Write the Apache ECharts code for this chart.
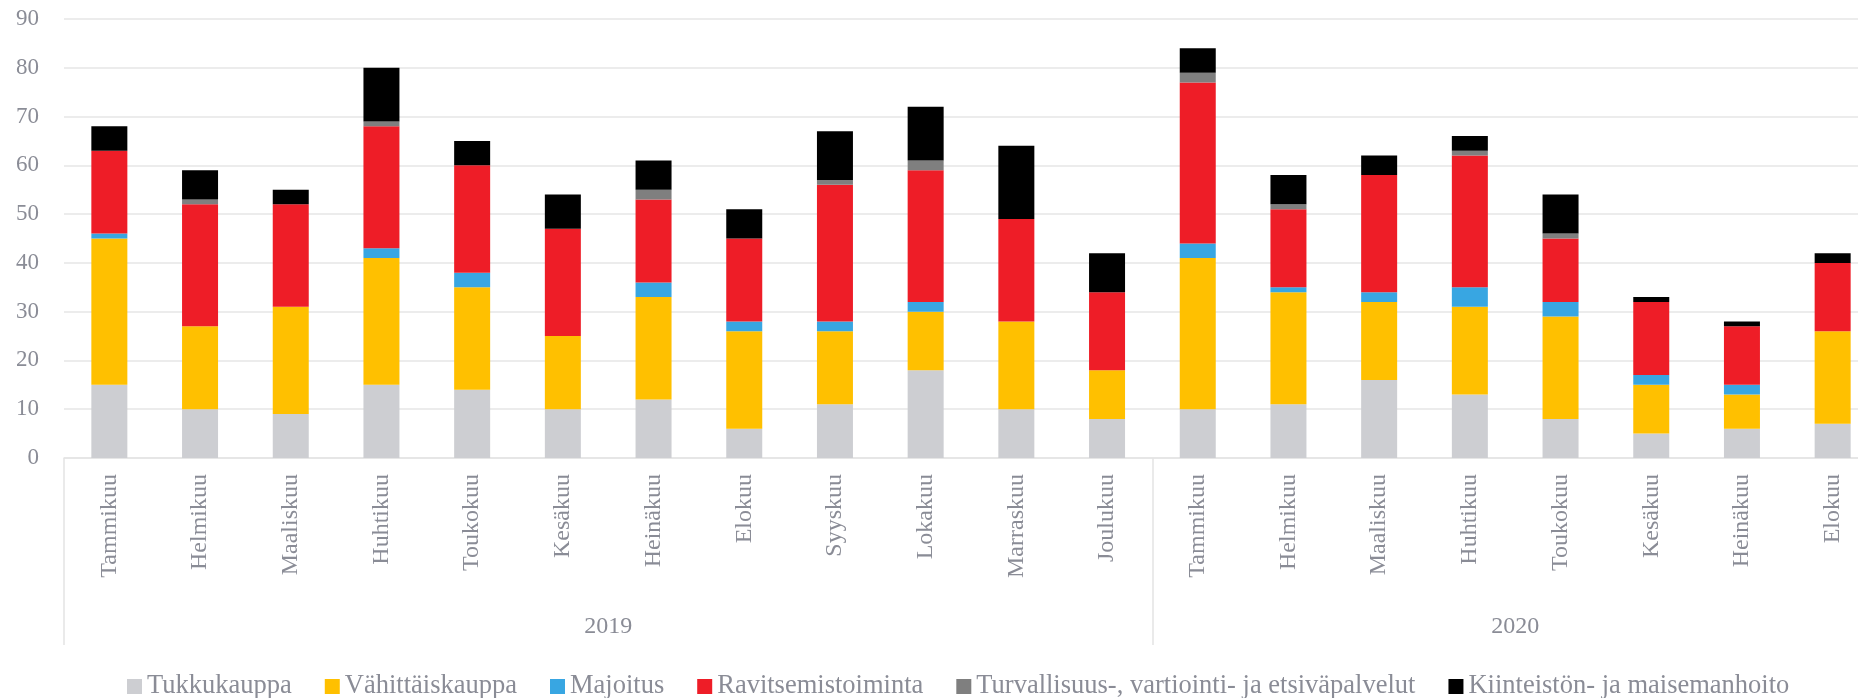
<!DOCTYPE html>
<html>
<head>
<meta charset="utf-8">
<script src="https://cdn.jsdelivr.net/npm/echarts@6/dist/echarts.min.js"></script>
<style>
  html, body { margin: 0; padding: 0; background: #fff; }
  #main { width: 1858px; height: 698px; }
</style>
</head>
<body>
<div id="main"></div>
<script>
// kuukaudet ja vuodet
var months = ['Tammikuu', 'Helmikuu', 'Maaliskuu', 'Huhtikuu', 'Toukokuu', 'Kesäkuu', 'Heinäkuu', 'Elokuu', 'Syyskuu', 'Lokakuu', 'Marraskuu', 'Joulukuu',
  'Tammikuu', 'Helmikuu', 'Maaliskuu', 'Huhtikuu', 'Toukokuu', 'Kesäkuu', 'Heinäkuu', 'Elokuu'];
var years = ['2019', '2020'];
var yearSpans = [12, 8];

var seriesNames = ['Tukkukauppa', 'Vähittäiskauppa', 'Majoitus', 'Ravitsemistoiminta', 'Turvallisuus-, vartiointi- ja etsiväpalvelut', 'Kiinteistön- ja maisemanhoito'];
var tukku = [15, 10, 9, 15, 14, 10, 12, 6, 11, 18, 10, 8, 10, 11, 16, 13, 8, 5, 6, 7];
var vahittais = [30, 17, 22, 26, 21, 15, 21, 20, 15, 12, 18, 10, 31, 23, 16, 18, 21, 10, 7, 19];
var majoitus = [1, 0, 0, 2, 3, 0, 3, 2, 2, 2, 0, 0, 3, 1, 2, 4, 3, 2, 2, 0];
var ravitsemis = [17, 25, 21, 25, 22, 22, 17, 17, 28, 27, 21, 16, 33, 16, 24, 27, 13, 15, 12, 14];
var turvallisuus = [0, 1, 0, 1, 0, 0, 2, 0, 1, 2, 0, 0, 2, 1, 0, 1, 1, 0, 0, 0];
var kiinteisto = [5, 6, 3, 11, 5, 7, 6, 6, 10, 11, 15, 8, 5, 6, 4, 3, 8, 1, 1, 2];

var colors = ['#cdced2', '#ffc000', '#38a6e2', '#ee1d27', '#7f7f7f', '#000000'];
var textColor = '#8a8c96';
var font = 'Liberation Serif';

// vuosien rajat ja keskikohdat
var yearBounds = [0];
var yearCenters = [];
yearSpans.forEach(function (s, i) {
  yearCenters.push(yearBounds[i] + s / 2);
  yearBounds.push(yearBounds[i] + s);
});

var chart = echarts.init(document.getElementById('main'), null, { renderer: 'canvas' });

var allData = [tukku, vahittais, majoitus, ravitsemis, turvallisuus, kiinteisto];
var series = allData.map(function (d, i) {
  return {
    name: seriesNames[i],
    type: 'bar',
    stack: 'total',
    barWidth: 36,
    itemStyle: { color: colors[i] },
    data: d
  };
});

var option = {
  backgroundColor: '#fff',
  animation: false,
  color: colors,
  grid: {
    left: 64,
    width: 1814,   // kuvan oikea reuna leikkaa viimeisen sarakkeen
    top: 19,
    bottom: 240,
    outerBoundsMode: 'none'
  },
  legend: {
    data: seriesNames,
    left: 122,
    top: 668,
    icon: 'rect',
    itemWidth: 15,
    itemHeight: 15,
    itemGap: 33,
    textStyle: { fontFamily: font, fontSize: 26.5, color: textColor }
  },
  xAxis: [{
    type: 'category',
    data: months,
    position: 'bottom',
    axisLine: { lineStyle: { color: '#e3e3e3', width: 1.5 } },
    axisTick: { show: false },
    axisLabel: {
      rotate: 90,
      interval: 0,
      margin: 16,
      fontFamily: font,
      fontSize: 24,
      color: textColor
    }
  }, {
    type: 'value',
    min: 0,
    max: yearBounds[yearBounds.length - 1],
    position: 'bottom',
    axisLine: { show: false },
    splitLine: { show: false },
    axisTick: {
      show: true,
      customValues: yearBounds,
      length: 187,
      lineStyle: { color: '#e3e3e3', width: 1.5 }
    },
    axisLabel: {
      customValues: yearCenters,
      margin: 157,
      fontFamily: font,
      fontSize: 24,
      color: textColor,
      formatter: function (v) {
        var idx = yearCenters.indexOf(v);
        return idx >= 0 ? years[idx] : '';
      }
    }
  }],
  yAxis: {
    type: 'value',
    min: 0,
    max: 90,
    interval: 10,
    axisLine: { show: false },
    axisTick: { show: false },
    splitLine: { lineStyle: { color: '#e6e6e6', width: 1.5 } },
    axisLabel: {
      margin: 25,
      fontFamily: font,
      fontSize: 23,
      color: textColor
    }
  },
  series: series
};

chart.setOption(option);
</script>
</body>
</html>
